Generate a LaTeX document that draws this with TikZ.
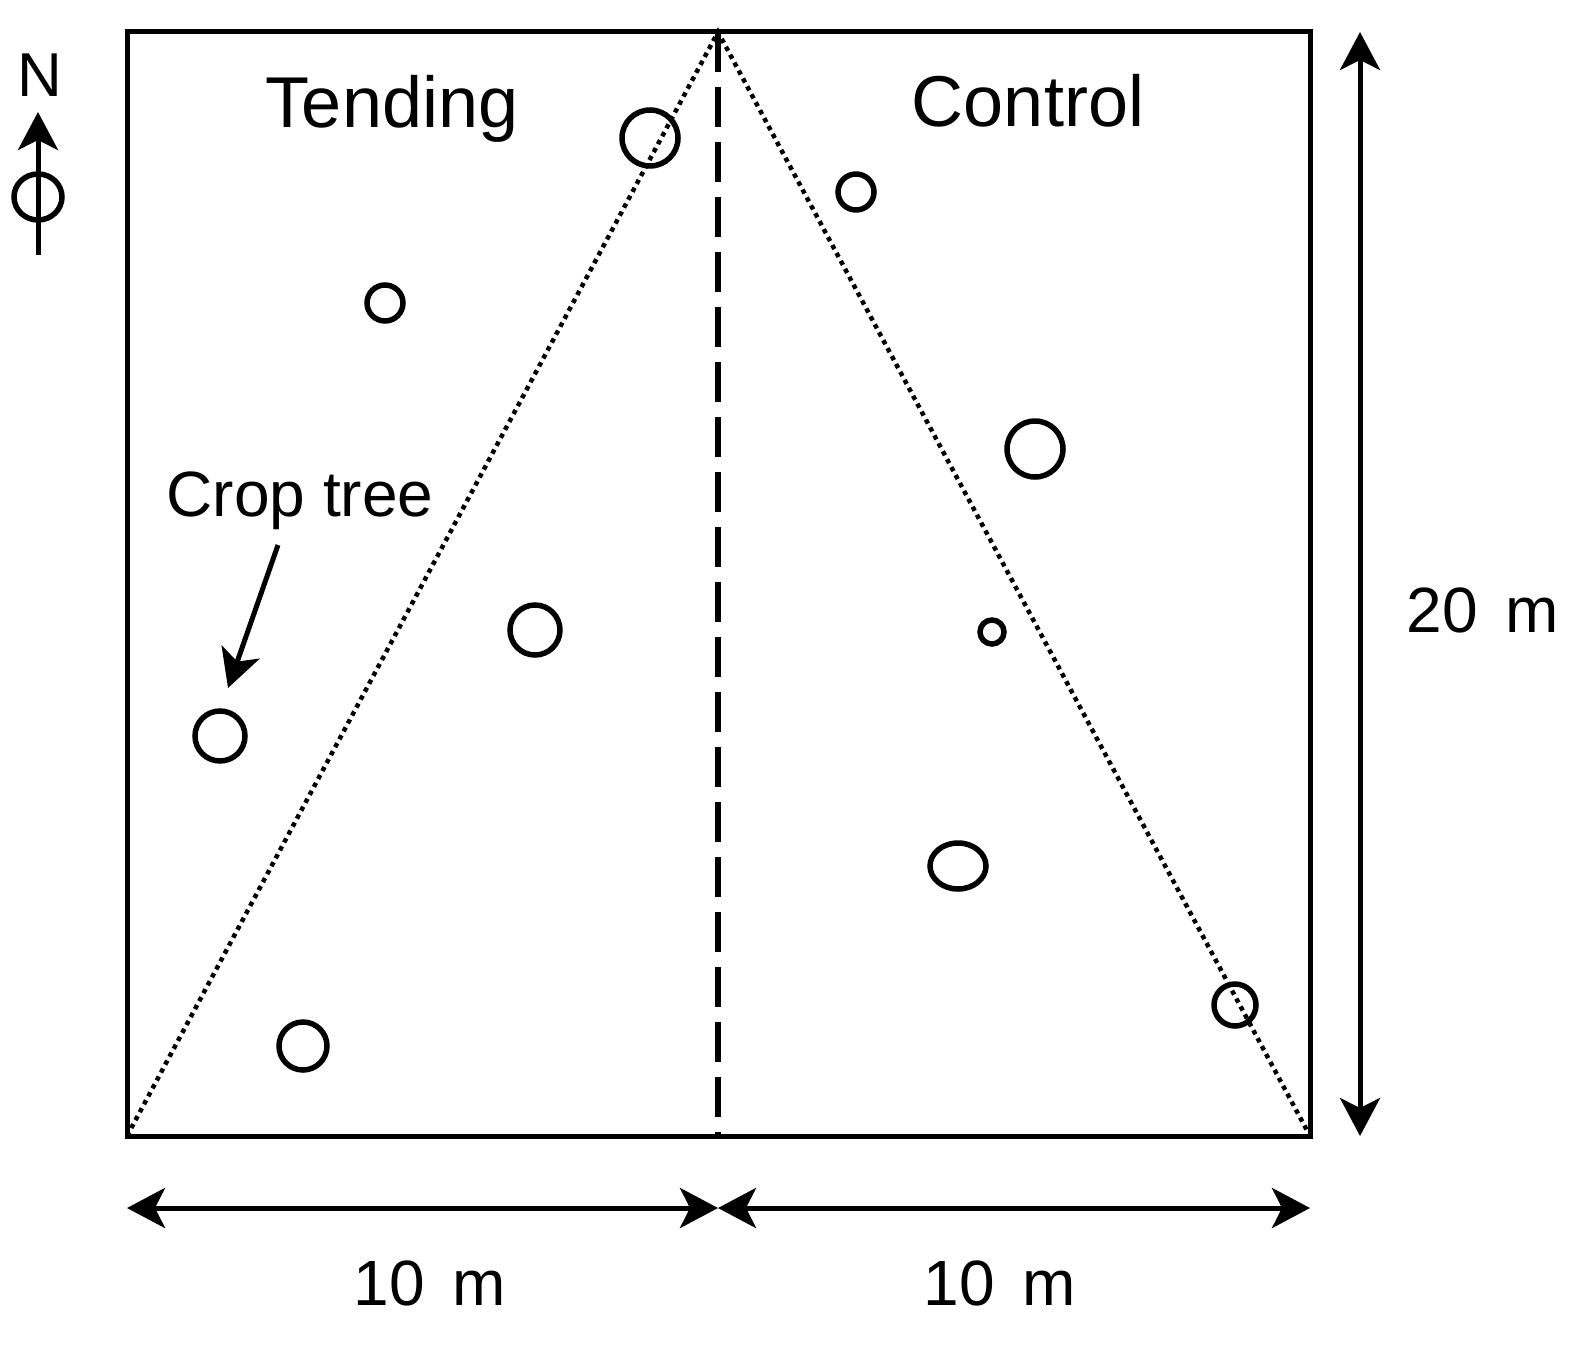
\documentclass[tikz,border=0pt]{standalone}
\usepackage{fontspec}
\setmainfont{Liberation Sans}
\usetikzlibrary{arrows.meta, shapes.geometric}

\begin{document}
\begin{tikzpicture}[x=1pt, y=-1pt,
  >={Stealth[length=38pt, width=40pt, inset=10pt]},
  plotline/.style={line width=5pt},
  tree/.style={circle, draw=black, line width=5.5pt, inner sep=0pt},
  dimarrow/.style={line width=5pt, <->},
  bigtext/.style={font=\fontsize{72}{80}\selectfont, inner sep=0pt, anchor=base}]
\useasboundingbox (0,0) rectangle (1594,1351);
% plot corners
\coordinate (nw) at (127,32);
\coordinate (ne) at (1310,32);
\coordinate (sw) at (127,1136);
\coordinate (se) at (1310,1136);
\coordinate (top) at (718,32);
\coordinate (bot) at (718,1136);
\draw [plotline, line join=miter] (nw) rectangle (se);
\draw [line width=6pt, dash pattern=on 40pt off 15pt] (top) to (bot);
\draw [line width=4.5pt, dash pattern=on 4.5pt off 4.5pt] (sw) to (top) to (se);
% trees
\node (t1) [tree, minimum size=56pt] at (650,138) {};
\node (t2) [tree, minimum size=36pt] at (385,303) {};
\node (t3) [tree, minimum size=50pt] at (535,630) {};
\node (t4) [tree, minimum size=50pt] at (220,736) {};
\node (t5) [tree, minimum size=48pt] at (303,1046) {};
\node (c1) [tree, minimum size=36pt] at (856,192) {};
\node (c2) [tree, minimum size=56pt] at (1035,449) {};
\node (c3) [tree, minimum size=24pt] at (992,632) {};
\node (c4) [tree, ellipse, minimum width=56pt, minimum height=46pt] at (958,866) {};
\node (c5) [tree, minimum size=42pt] at (1235,1005) {};
% labels
\node (tending) [bigtext] at (392,128) {Tending};
\node (control) [bigtext] at (1028,127) {Control};
\node (crop) [bigtext, font=\fontsize{64}{72}\selectfont] at (300,516) {Crop tree};
\coordinate (croptip) at (228,688);
\draw [line width=5pt, ->] (278,545) to (croptip);
% dimensions
\coordinate (v1) at (1360,1136);
\coordinate (v2) at (1360,32);
\coordinate (h1) at (127,1208);
\coordinate (h2) at (718,1208);
\coordinate (h3) at (1310,1208);
\draw [dimarrow] (v1) to (v2);
\draw [dimarrow] (h1) to (h2);
\draw [dimarrow] (h2) to (h3);
\node (dimv) [bigtext, font=\fontsize{64}{72}\selectfont] at (1483,632) {20\hspace{10pt} m};
\node (dimh1) [bigtext, font=\fontsize{64}{72}\selectfont] at (430,1305) {10\hspace{10pt} m};
\node (dimh2) [bigtext, font=\fontsize{64}{72}\selectfont] at (1000,1305) {10\hspace{10pt} m};
% north arrow
\node (north) [bigtext, font=\fontsize{62}{72}\selectfont] at (40,97) {N};
\node (northring) [tree, ellipse, minimum width=48pt, minimum height=46pt] at (38,197) {};
\draw [line width=5pt, ->] (38,255) to (38,112);
\end{tikzpicture}
\end{document}
